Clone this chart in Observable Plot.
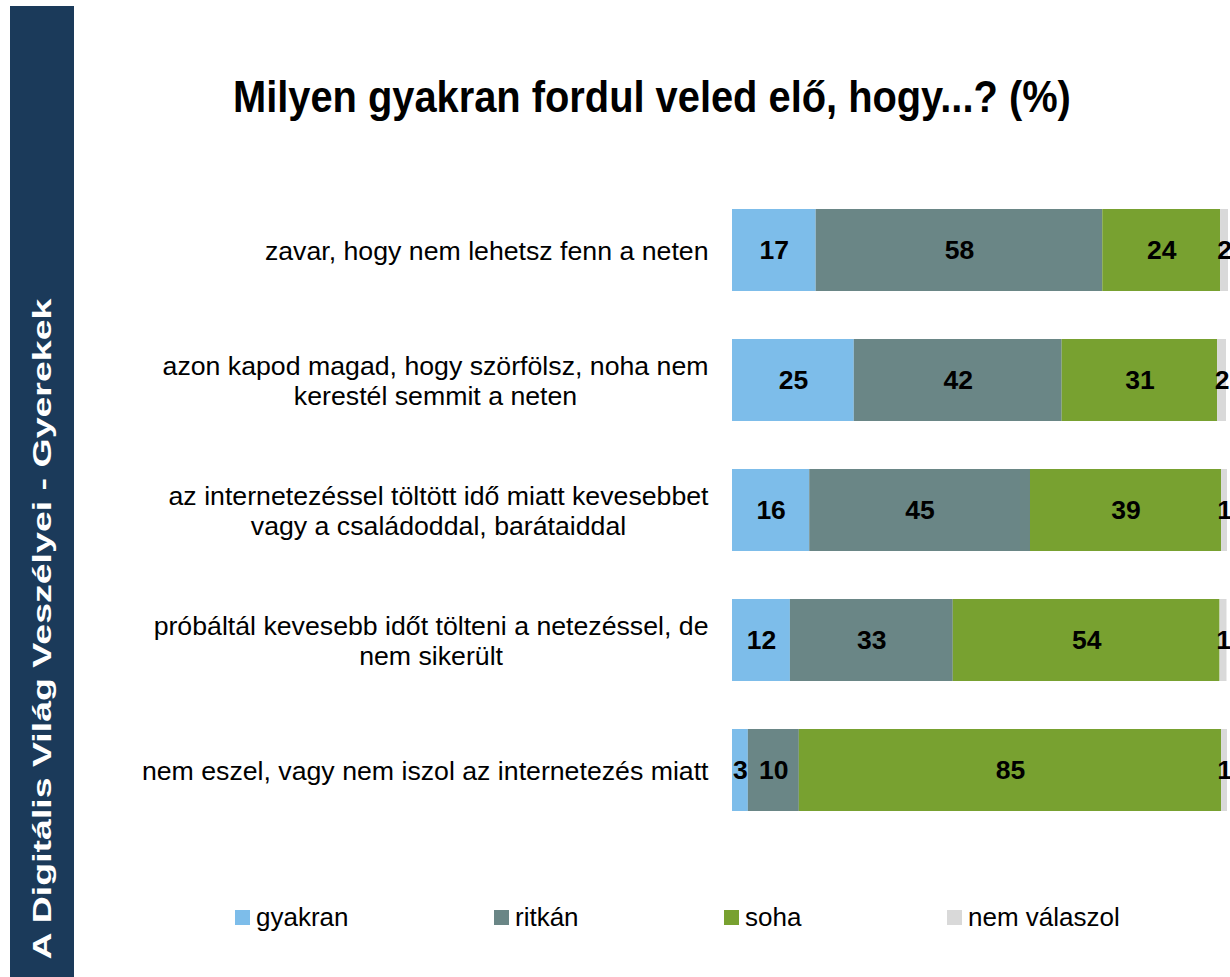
<!DOCTYPE html>
<html><head><meta charset="utf-8">
<script src="https://cdn.jsdelivr.net/npm/d3@7"></script>
<script src="https://cdn.jsdelivr.net/npm/@observablehq/plot@0.6"></script>
<style>
html,body{margin:0;padding:0;background:#fff;overflow:hidden;}
#root{position:relative;width:1230px;height:977px;overflow:hidden;font-family:"Liberation Sans",Arial,sans-serif;color:#000;}
#side{position:absolute;left:10px;top:6px;width:64px;height:971px;background:#1b3a5a;}
#sidetext{position:absolute;left:42px;top:629px;color:#fff;font-weight:bold;font-size:25px;line-height:1;white-space:nowrap;transform:translate(-50%,-50%) rotate(-90deg) scaleX(1.5);}
#title{position:absolute;left:74px;width:1156px;top:75px;text-align:center;font-weight:bold;font-size:44px;line-height:44px;white-space:nowrap;}
#title span{display:inline-block;transform:scaleX(0.905);}
#chart{position:absolute;left:0;top:170px;}
#legend{position:absolute;left:235px;top:901px;width:990px;}
.lg-swatches{font-size:26px !important;font-family:"Liberation Sans",Arial,sans-serif !important;margin:0 !important;color:#000;flex-wrap:nowrap !important;white-space:nowrap;}
.lg-swatch{margin-right:145.5px !important;white-space:nowrap;}
.lg-swatch > svg{margin-right:6px !important;}
</style>
</head><body>
<div id="root">
  <div id="side"></div>
  <div id="sidetext">A Digitális Világ Veszélyei - Gyerekek</div>
  <div id="title"><span>Milyen gyakran fordul veled elő, hogy...? (%)</span></div>
  <div id="chart"></div>
  <div id="legend"></div>
</div>
<script>
const categories = [
  "zavar, hogy nem lehetsz fenn a neten",
  "azon kapod magad, hogy szörfölsz, noha nem\nkerestél semmit a neten",
  "az internetezéssel töltött idő miatt kevesebbet\nvagy a családoddal, barátaiddal",
  "próbáltál kevesebb időt tölteni a netezéssel, de\nnem sikerült",
  "nem eszel, vagy nem iszol az internetezés miatt"
];
const responses = ["gyakran", "ritkán", "soha", "nem válaszol"];
// values; labels show them rounded
const gyakran = [16.9, 24.6, 15.6, 11.7, 3.2];
const ritkan = [57.9, 42.0, 44.6, 32.9, 10.3];
const soha = [23.8, 31.4, 38.6, 53.9, 85.3];
const nemValaszol = [1.6, 1.8, 1.2, 1.4, 1.2];
const colors = ["#7dbdea", "#6a8686", "#78a130", "#d9d9d9"];

const series = [gyakran, ritkan, soha, nemValaszol];
const data = categories.flatMap((c, i) => responses.map((r, j) => ({cat: c, resp: r, value: series[j][i]})));

const FONT = "'Liberation Sans', Arial, sans-serif";
const catSize = 26.7;
const ctx = document.createElement("canvas").getContext("2d");
ctx.font = `${catSize}px ${FONT}`;
const blockWidth = s => Math.max(...s.split("\n").map(l => ctx.measureText(l).width));

const chart = Plot.plot({
  width: 1230,
  height: 680,
  marginLeft: 732,
  marginRight: 3,
  marginTop: 14,
  marginBottom: 13.5,
  style: {fontFamily: FONT, background: "transparent", overflow: "visible"},
  x: {domain: [0, 100], axis: null},
  y: {domain: categories, axis: null, paddingInner: 0.37, paddingOuter: 0.185},
  color: {domain: responses, range: colors},
  marks: [
    Plot.barX(data, Plot.stackX({x: "value", y: "cat", fill: "resp", z: "resp"})),
    Plot.text(data, Plot.stackX({x: "value", y: "cat", z: "resp", text: d => String(Math.round(d.value)), fill: "#000", fontWeight: "bold", fontSize: 26.5})),
    ...categories.map(c => Plot.text([c], {
      y: d => d, text: d => d, frameAnchor: "left", textAnchor: "middle",
      dx: -24 - blockWidth(c) / 2, fontSize: catSize, lineHeight: 1.14, fill: "#000"
    }))
  ]
});
document.getElementById("chart").appendChild(chart);

const leg = Plot.legend({
  color: {domain: responses, range: colors},
  legend: "swatches",
  swatchSize: 15,
  className: "lg",
  style: {fontSize: "26px", fontFamily: FONT}
});
document.getElementById("legend").appendChild(leg);
</script>
</body></html>
